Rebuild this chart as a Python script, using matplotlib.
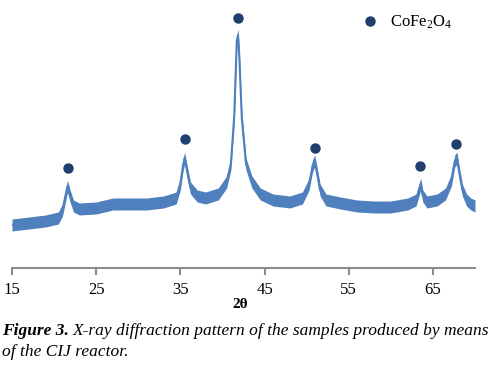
import matplotlib
matplotlib.use("Agg")
import matplotlib.pyplot as plt

# XRD pattern (intensity in arbitrary units)
two_theta = [15, 17, 19, 20.5, 21.0, 21.3, 21.6, 21.9, 22.3, 23, 25, 27, 29, 31, 33,
             34.5, 35.0, 35.3, 35.5, 35.8, 36.2, 37, 38, 39.5, 40.5, 41.0, 41.4, 41.7,
             41.85, 42.0, 42.3, 42.8, 43.5, 44.5, 46, 48, 49.5, 50.3, 50.7, 50.95, 51.2,
             51.6, 52.3, 54, 56, 58, 60, 62, 63.0, 63.35, 63.55, 63.8, 64.3, 65.5, 66.5,
             67.2, 67.6, 67.85, 68.1, 68.5, 69.0, 69.5, 70]
intensity = [43, 45, 47, 50, 58, 70, 82, 72, 62, 59, 60, 64, 64, 64, 66,
             70, 84, 102, 110, 97, 80, 72, 70, 74, 86, 104, 152, 227,
             233, 212, 150, 104, 86, 74, 68, 66, 70, 84, 102, 107, 97,
             78, 68, 65, 62, 61, 61, 64, 68, 78, 84, 72, 66, 68, 74,
             88, 107, 110, 97, 78, 68, 64, 62]
noise = 6

# CoFe2O4 reflections
peak_pos = [21.6, 35.5, 41.8, 50.95, 63.5, 67.8]
peak_mark = [100, 129, 250, 120, 102, 124]

xticks = [15, 25, 35, 45, 55, 65]

plt.rcParams['font.family'] = ['Liberation Serif', 'DejaVu Serif']
plt.rcParams['mathtext.default'] = 'regular'

line_color = '#4f80bd'
mark_color = '#1f3f6f'

fig = plt.figure(figsize=(4.96, 3.70), dpi=100)
ax = fig.add_axes([12 / 496, (370 - 268) / 370, (475 - 12) / 496, 260 / 370])

lower = [v - noise for v in intensity]
upper = [v + noise for v in intensity]
ax.fill_between(two_theta, lower, upper, color=line_color, lw=0)
ax.plot(two_theta, intensity, color=line_color, lw=1.5)

ax.plot(peak_pos, peak_mark, 'o', color=mark_color, ms=6.5, ls='none',
        label='CoFe$_2$O$_4$')

ax.set_xlim(15, 70)
ax.set_ylim(0, 260)
ax.set_xticks(xticks)
ax.set_yticks([])
for s in ['top', 'right', 'left']:
    ax.spines[s].set_visible(False)
ax.spines['bottom'].set_color('#8c8c8c')
ax.spines['bottom'].set_linewidth(1.5)
ax.tick_params(axis='x', direction='out', length=5, width=1.5, color='#8c8c8c',
               labelsize=12, pad=5)

ax.legend(loc='upper left', bbox_to_anchor=(0.722, 1.005), frameon=False,
          fontsize=12, handletextpad=0.25, borderaxespad=0)

fig.text(240 / 496, 1 - 304 / 370, '2θ', fontsize=11, fontweight='bold',
         ha='center', va='center')

fig.text(2 / 496, 1 - 331 / 370, 'Figure 3.', fontsize=12.5, fontweight='bold',
         style='italic', ha='left', va='center')
fig.text(73 / 496, 1 - 331 / 370,
         'X-ray diffraction pattern of the samples produced by means',
         fontsize=12.5, style='italic', ha='left', va='center')
fig.text(2 / 496, 1 - 352 / 370, 'of the CIJ reactor.', fontsize=12.5,
         style='italic', ha='left', va='center')

fig.savefig('out.png', dpi=100)
